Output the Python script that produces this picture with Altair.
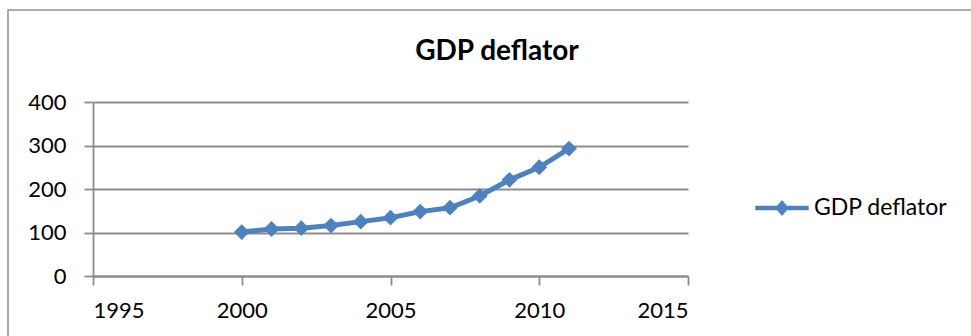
import altair as alt
import pandas as pd

years = [2000, 2001, 2002, 2003, 2004, 2005, 2006, 2007, 2008, 2009, 2010, 2011]
deflator = [101, 108, 110, 116, 125, 134, 148, 157, 184, 221, 250, 293]
series_name = "GDP deflator"
x_ticks = [1995, 2000, 2005, 2010, 2015]
y_ticks = [0, 100, 200, 300, 400]

df = pd.DataFrame({"year": years, "value": deflator, "series": [series_name] * len(years)})

FONT = "Lato"
BLUE = "#4F81BD"
GRID = "#8C8C8C"

legend_path = ("M-1,-0.085 L-0.185,-0.085 L0,-0.3 L0.185,-0.085 L1,-0.085 L1,0.085 "
               "L0.185,0.085 L0,0.3 L-0.185,0.085 L-1,0.085 Z")

x_enc = alt.X("year:Q", scale=alt.Scale(domain=[1995, 2015], nice=False),
              axis=alt.Axis(values=x_ticks, format="d", title=None, grid=False,
                            tickSize=9, labelPadding=15))
y_enc = alt.Y("value:Q", scale=alt.Scale(domain=[0, 400], nice=False),
              axis=alt.Axis(values=y_ticks, title=None, grid=True,
                            tickSize=9, labelPadding=18))
color_enc = alt.Color("series:N", scale=alt.Scale(range=[BLUE]),
                      legend=alt.Legend(title=None, orient="none", legendX=662, legendY=79,
                                        symbolType=legend_path, symbolSize=2850,
                                        symbolStrokeWidth=0, symbolFillColor=BLUE,
                                        labelFontSize=23, labelFont=FONT, labelColor="black",
                                        labelOffset=5, padding=0))

border = alt.Chart(pd.DataFrame({"a": [0]})).mark_rect(
    fill=None, stroke="#8F8F8F", strokeWidth=1.5
).encode(x=alt.value(-85), y=alt.value(-92), x2=alt.value(900), y2=alt.value(300))

title = alt.Chart(pd.DataFrame({"t": [series_name]})).mark_text(
    font=FONT, fontSize=28, fontWeight="bold", color="black", align="center", baseline="middle"
).encode(text="t:N", x=alt.value(404), y=alt.value(-50))

line = alt.Chart(df).mark_line(strokeWidth=5).encode(x=x_enc, y=y_enc, color=color_enc)
points = alt.Chart(df).mark_point(shape="diamond", filled=True, size=250, opacity=1).encode(
    x=x_enc, y=y_enc, color=alt.Color("series:N", legend=None, scale=alt.Scale(range=[BLUE])))

chart = alt.layer(border, title, line, points).properties(
    width=595, height=174,
    padding={"left": 93, "top": 102, "right": 283, "bottom": 60},
    autosize=alt.AutoSizeParams(type="none"),
).configure(background="white").configure_view(stroke=None).configure_axis(
    domainColor=GRID, tickColor=GRID, gridColor=GRID, domainWidth=1.8, tickWidth=1.8,
    gridWidth=1.8, labelFont=FONT, labelFontSize=22, labelColor="black"
)

chart.save("out.html", embed_options={"renderer": "svg", "actions": False})
